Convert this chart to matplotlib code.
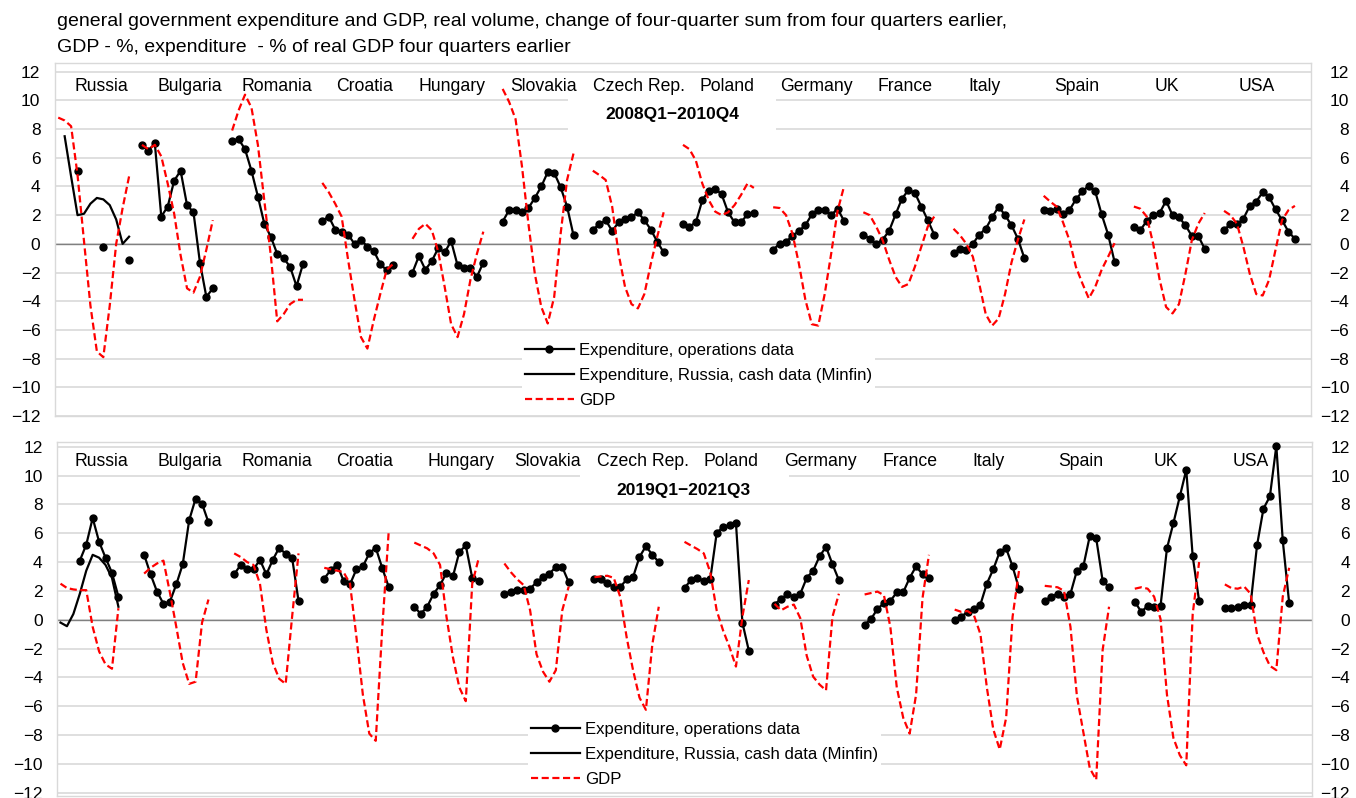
import numpy as np
import matplotlib
matplotlib.use("Agg")
import matplotlib.pyplot as plt
from matplotlib.patches import Rectangle
from matplotlib.lines import Line2D

plt.rcParams['font.family'] = ['Liberation Sans', 'DejaVu Sans']

nan = np.nan

countries = ["Russia", "Bulgaria", "Romania", "Croatia", "Hungary", "Slovakia", "Czech Rep.",
             "Poland", "Germany", "France", "Italy", "Spain", "UK", "USA"]

title_lines = ["general government expenditure and GDP, real volume, change of four-quarter sum from four quarters earlier,",
               "GDP - %, expenditure  - % of real GDP four quarters earlier"]
period_1 = "2008Q1\u22122010Q4"
period_2 = "2019Q1\u22122021Q3"
legend_labels = ["Expenditure, operations data", "Expenditure, Russia, cash data (Minfin)", "GDP"]
yticks = list(range(-12, 13, 2))

# ---------------- Panel 1: 2008Q1-2010Q4 (12 quarters) ----------------
exp_ops_2008 = [
    [nan, nan, nan, 5.1, nan, nan, nan, -0.2, nan, nan, nan, -1.1],            # Russia
    [6.9, 6.5, 7.0, 1.9, 2.6, 4.4, 5.1, 2.7, 2.2, -1.3, -3.7, -3.1],           # Bulgaria
    [7.2, 7.3, 6.6, 5.1, 3.3, 1.4, 0.5, -0.7, -1.0, -1.6, -2.95, -1.4],       # Romania
    [1.6, 1.9, 1.0, 0.85, 0.65, 0.0, 0.3, -0.2, -0.5, -1.4, -1.85, -1.5],     # Croatia
    [-2.0, -0.85, -1.8, -1.2, -0.3, -0.6, 0.2, -1.5, -1.65, -1.7, -2.3, -1.3],  # Hungary
    [1.55, 2.35, 2.35, 2.2, 2.5, 3.2, 4.0, 5.0, 4.95, 3.95, 2.6, 0.6],         # Slovakia
    [1.0, 1.35, 1.65, 0.9, 1.5, 1.75, 1.85, 2.2, 1.65, 1.0, 0.15, -0.6],      # Czech Rep.
    [1.35, 1.2, 1.5, 3.05, 3.7, 3.85, 3.45, 2.2, 1.5, 1.5, 2.05, 2.15],       # Poland
    [-0.4, 0.0, 0.15, 0.55, 0.9, 1.3, 2.05, 2.35, 2.35, 2.0, 2.45, 1.6],      # Germany
    [0.65, 0.35, 0.0, 0.3, 0.9, 2.05, 3.15, 3.75, 3.55, 2.6, 1.65, 0.65],     # France
    [-0.65, -0.35, -0.45, 0.0, 0.65, 1.05, 1.85, 2.6, 2.0, 1.3, 0.35, -1.0],  # Italy
    [2.35, 2.3, 2.45, 2.1, 2.35, 3.1, 3.65, 4.05, 3.65, 2.05, 0.65, -1.25],   # Spain
    [1.2, 0.95, 1.6, 2.0, 2.15, 3.0, 2.0, 1.85, 1.3, 0.55, 0.55, -0.35],      # UK
    [0.95, 1.4, 1.35, 1.75, 2.65, 2.95, 3.6, 3.25, 2.4, 1.65, 0.85, 0.35],    # USA
]
exp_cash_russia_2008 = [nan, 7.5, 4.7, 2.0, 2.1, 2.8, 3.2, 3.1, 2.7, 1.7, 0.0, 0.5]
gdp_2008 = [
    [8.8, 8.6, 8.2, 4.8, 0.2, -4.3, -7.5, -7.9, -4.3, 0.0, 2.5, 4.7],          # Russia
    [6.9, 6.6, 6.9, 6.1, 4.2, 2.1, -0.8, -3.1, -3.4, -2.3, -0.4, 1.65],       # Bulgaria
    [7.9, 9.3, 10.4, 9.5, 6.9, 3.0, -0.8, -5.4, -4.9, -4.2, -3.9, -3.9],      # Romania
    [4.25, 3.6, 2.8, 1.9, -1.1, -3.9, -6.5, -7.3, -5.3, -3.5, -1.8, -1.4],    # Croatia
    [0.35, 1.05, 1.4, 0.95, -0.55, -3.0, -5.6, -6.5, -4.9, -2.5, -0.7, 0.85],  # Hungary
    [10.8, 9.9, 8.7, 5.4, 1.4, -2.1, -4.4, -5.55, -3.7, 0.7, 4.45, 6.3],      # Slovakia
    [5.1, 4.8, 4.45, 2.6, -0.7, -3.0, -4.2, -4.5, -3.5, -1.4, 0.5, 2.2],      # Czech Rep.
    [6.9, 6.6, 5.8, 4.2, 3.05, 2.25, 2.0, 2.2, 2.7, 3.4, 4.2, 3.9],           # Poland
    [2.55, 2.5, 2.0, 0.7, -1.4, -3.9, -5.6, -5.7, -3.5, -0.7, 2.3, 4.0],      # Germany
    [2.2, 2.0, 1.2, 0.25, -1.1, -2.3, -3.0, -2.8, -1.6, -0.2, 1.2, 1.9],      # France
    [1.05, 0.6, 0.0, -0.9, -2.8, -4.9, -5.7, -5.2, -3.5, -1.3, 0.3, 1.7],     # Italy
    [3.35, 2.95, 2.6, 1.5, 0.25, -1.6, -2.75, -3.8, -3.0, -1.8, -0.9, 0.05],  # Spain
    [2.6, 2.45, 1.9, 0.0, -2.5, -4.4, -4.85, -4.2, -2.1, 0.25, 1.4, 2.15],    # UK
    [2.3, 2.0, 1.4, -0.2, -2.1, -3.5, -3.6, -2.5, -0.4, 1.65, 2.35, 2.65],    # USA
]

# ---------------- Panel 2: 2019Q1-2021Q3 (11 quarters) ----------------
exp_ops_2019 = [
    [nan, nan, nan, 4.1, 5.2, 7.05, 5.4, 4.3, 3.25, 1.6, nan],               # Russia
    [4.5, 3.15, 1.95, 1.1, 1.25, 2.45, 3.85, 6.9, 8.4, 8.05, 6.75],           # Bulgaria
    [3.15, 3.8, 3.5, 3.5, 4.15, 3.15, 4.15, 5.0, 4.55, 4.3, 1.3],             # Romania
    [2.85, 3.45, 3.8, 2.7, 2.45, 3.5, 3.7, 4.6, 5.0, 3.6, 2.3],               # Croatia
    [0.9, 0.4, 0.9, 1.8, 2.4, 3.25, 3.0, 4.7, 5.15, 2.9, 2.7],                # Hungary
    [1.8, 1.95, 2.05, 2.05, 2.15, 2.6, 2.95, 3.2, 3.65, 3.65, 2.6],           # Slovakia
    [2.85, 2.85, 2.55, 2.25, 2.25, 2.8, 2.95, 4.35, 5.1, 4.5, 4.0],           # Czech Rep.
    [2.2, 2.75, 2.9, 2.7, 2.8, 6.0, 6.45, 6.55, 6.7, -0.2, -2.15],            # Poland
    [1.05, 1.45, 1.75, 1.6, 1.8, 2.9, 3.4, 4.4, 5.05, 3.85, 2.75],            # Germany
    [-0.35, 0.05, 0.75, 1.15, 1.3, 1.9, 1.9, 2.9, 3.7, 3.15, 2.9],            # France
    [0.0, 0.2, 0.55, 0.75, 1.05, 2.5, 3.5, 4.7, 4.95, 3.7, 2.15],             # Italy
    [1.3, 1.6, 1.8, 1.55, 1.8, 3.4, 3.7, 5.8, 5.65, 2.7, 2.25],               # Spain
    [1.25, 0.55, 0.95, 0.85, 0.95, 4.95, 6.7, 8.55, 10.4, 4.4, 1.3],          # UK
    [0.8, 0.8, 0.85, 1.05, 1.05, 5.15, 7.7, 8.55, 12.05, 5.5, 1.15],          # USA
]
exp_cash_russia_2019 = [-0.2, -0.45, 0.4, 1.8, 3.4, 4.5, 4.3, 3.8, 2.9, 0.9, nan]
gdp_2019 = [
    [2.5, 2.2, 2.1, 2.05, 2.05, -0.5, -2.2, -3.1, -3.4, 0.8, nan],            # Russia
    [3.2, 3.6, 3.9, 4.1, 1.9, -0.5, -3.0, -4.45, -4.3, -0.2, 1.4],            # Bulgaria
    [4.6, 4.35, 4.0, 3.8, 2.5, -0.7, -3.0, -4.1, -4.45, 0.2, 4.6],            # Romania
    [3.6, 3.5, 3.4, 3.3, 2.5, -1.2, -5.2, -7.9, -8.4, -0.7, 6.0],             # Croatia
    [5.35, 5.15, 4.95, 4.6, 3.8, 0.2, -2.6, -4.7, -5.65, 2.5, 4.25],          # Hungary
    [3.9, 3.3, 2.8, 2.4, 0.65, -2.4, -3.6, -4.3, -3.5, 0.65, 2.3],            # Slovakia
    [2.95, 3.0, 3.05, 2.9, 1.6, -1.2, -3.5, -5.4, -6.25, -1.7, 0.9],          # Czech Rep.
    [5.4, 5.15, 4.9, 4.6, 3.3, 0.65, -0.75, -1.9, -3.25, 0.2, 2.75],          # Poland
    [1.1, 0.65, 0.9, 1.05, 0.1, -2.5, -3.95, -4.5, -4.9, 0.2, 1.8],           # Germany
    [1.75, 1.85, 1.95, 1.7, -0.5, -4.7, -6.8, -7.9, -5.2, 1.5, 4.5],          # France
    [0.7, 0.55, 0.6, 0.3, -1.0, -4.7, -7.6, -9.0, -6.8, 0.2, 3.4],            # Italy
    [2.35, 2.3, 2.25, 2.0, -0.5, -5.3, -7.8, -10.3, -11.1, -2.1, 0.9],        # Spain
    [2.15, 2.25, 2.15, 1.6, 0.05, -5.2, -8.2, -9.4, -10.1, 0.4, 4.0],         # UK
    [2.45, 2.2, 2.15, 2.3, 1.8, -1.0, -2.25, -3.2, -3.5, 1.6, 3.6],           # USA
]

# category positions of country labels (x, in category units)
label_x_1 = [6.7, 20.5, 33.9, 47.6, 61.1, 75.4, 90.1, 103.8, 117.7, 131.5, 143.8, 158.1, 172.1, 186.1]
label_x_2 = [6.3, 20.1, 33.6, 47.3, 62.3, 75.7, 90.6, 104.3, 118.1, 132.0, 144.3, 158.6, 171.8, 185.0]

# ---------------- layout ----------------
W, H = 1356, 798
fig = plt.figure(figsize=(W / 100, H / 100), dpi=100)

GRID = '#d9d9d9'
LW = 1.6
DASH = (0, (3.2, 1.6))


def px_axes(l, t, r, b):
    return fig.add_axes([l / W, 1 - b / H, (r - l) / W, (b - t) / H])


# first category of each country: Russia at 0, then blocks of 14
starts = [0] + [14 * i - 1 for i in range(1, len(countries))]


def setup(ax, ylim):
    ax.set_xlim(-0.5, 194.5)
    ax.set_ylim(*ylim)
    ax.set_yticks(yticks)
    ax.set_xticks([])
    ax.yaxis.grid(True, color=GRID, lw=1.2)
    ax.set_axisbelow(True)
    for s in ax.spines.values():
        s.set_color(GRID)
        s.set_linewidth(1.0)
    ax.tick_params(axis='y', length=0, pad=10.5, labelsize=12.5, labelleft=True, labelright=False)
    ax.axhline(0, color='#808080', lw=1.0, zorder=1.2)
    axr = ax.twinx()
    axr.set_ylim(*ylim)
    axr.set_yticks(yticks)
    axr.tick_params(axis='y', length=0, pad=27.5, labelsize=12.5)
    for lbl in axr.get_yticklabels():
        lbl.set_ha('right')
    for s in axr.spines.values():
        s.set_visible(False)
    return axr


def draw_panel(ax, n, ops, cash, gdp, label_x, label_y, period, pbox, ptext):
    q = np.arange(n)
    for i, c in enumerate(countries):
        x = starts[i] + q
        ax.plot(x, ops[i], color='black', lw=LW, marker='o', ms=5, zorder=4)
        if i == 0:
            ax.plot(x, cash, color='black', lw=LW, zorder=4)
        ax.plot(x, gdp[i], color='red', lw=LW, ls=DASH, zorder=5)
        ax.text(label_x[i], label_y, c, ha='center', va='baseline', fontsize=12.7, zorder=6)
    x0, y0, x1, y1 = pbox
    ax.add_patch(Rectangle((x0, y0), x1 - x0, y1 - y0, facecolor='white', edgecolor='none', zorder=1.0))
    ax.text(ptext[0], ptext[1], period, ha='center', va='center', fontsize=12.5, fontweight='bold', zorder=6)


ax1 = px_axes(55, 63.3, 1311, 416)
setup(ax1, (-12, 12.586))
draw_panel(ax1, 12, exp_ops_2008, exp_cash_russia_2008, gdp_2008, label_x_1, 10.65, period_1,
           (79.2, 7.5, 111.5, 10.4), (95.4, 9.0))

ax2 = px_axes(57.3, 441.7, 1311.7, 795.6)
setup(ax2, (-12.2, 12.347))
draw_panel(ax2, 11, exp_ops_2019, exp_cash_russia_2019, gdp_2019, label_x_2, 10.68, period_2,
           (80.7, 9.2, 113.3, 10.5), (96.8, 8.95))

handles = [Line2D([], [], color='black', lw=LW, marker='o', ms=5),
           Line2D([], [], color='black', lw=LW),
           Line2D([], [], color='red', lw=LW, ls=DASH)]

for ax, (lx, ty) in ((ax1, (521.6, 339.3)), (ax2, (527.6, 718.6))):
    leg = ax.legend(handles, legend_labels, loc='upper left', bbox_to_anchor=(lx / W, 1 - ty / H),
                    bbox_transform=fig.transFigure, frameon=True, facecolor='white', edgecolor='none',
                    framealpha=1, fancybox=False, fontsize=12.1, handlelength=2.9, handletextpad=0.3,
                    labelspacing=0.6, borderpad=0.2, borderaxespad=0)
    leg.set_zorder(7)

fig.text(57 / W, 1 - 26 / H, title_lines[0], fontsize=14.0, va='baseline', ha='left')
fig.text(57 / W, 1 - 52 / H, title_lines[1], fontsize=14.0, va='baseline', ha='left')

fig.savefig('out.png', dpi=100)
